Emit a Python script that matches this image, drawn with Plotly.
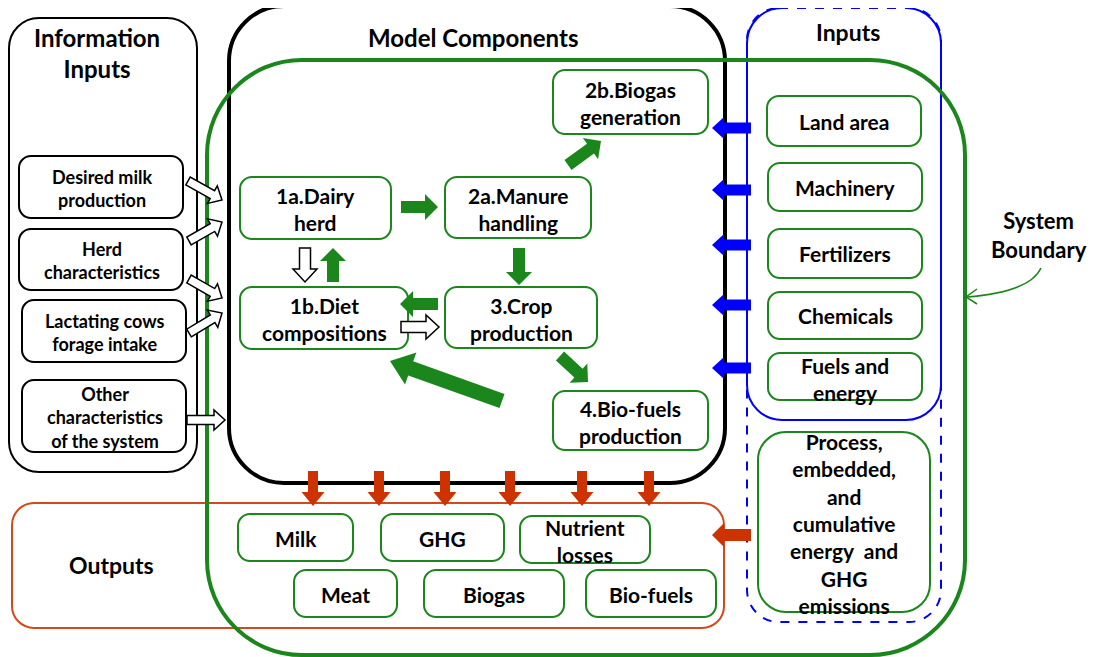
import numpy as np
import plotly.graph_objects as go

# ---- diagram text ----
titles = ["Information<br>Inputs", "Model Components", "Inputs", "System<br>Boundary", "Outputs"]
info_labels = ["Desired milk<br>production", "Herd<br>characteristics",
               "Lactating cows<br>forage intake", "Other<br>characteristics<br>of the system"]
comp_labels = ["1a.Dairy<br>herd", "2a.Manure<br>handling", "2b.Biogas<br>generation",
               "1b.Diet<br>compositions", "3.Crop<br>production", "4.Bio-fuels<br>production"]
input_labels = ["Land area", "Machinery", "Fertilizers", "Chemicals", "Fuels and<br>energy"]
energy_label = "Process,<br>embedded,<br>and<br>cumulative<br>energy  and<br>GHG<br>emissions"
output_labels = ["Milk", "GHG", "Nutrient<br>losses", "Meat", "Biogas", "Bio-fuels"]

# ---- layout (pixel coordinates) ----
info_boxes = [(19, 156, 183, 218), (19, 229, 183, 290), (22, 300, 186, 362), (22, 380, 186, 452)]
comp_boxes = [(240, 177, 391, 239), (445, 177, 591, 238), (553, 70, 708, 134),
              (240, 287, 408, 349), (445, 287, 597, 348), (553, 391, 708, 450)]
input_boxes = [(767, 96, 921, 146), (768, 163, 922, 211), (768, 229, 922, 278),
               (768, 292, 922, 339), (768, 353, 922, 400)]
energy_box = (758, 432, 930, 612)
output_boxes = [(238, 514, 353, 561), (381, 514, 504, 561), (520, 516, 650, 563),
                (294, 570, 397, 617), (424, 570, 564, 617), (586, 570, 716, 617)]

GREEN = "#1b861b"
BLUE = "#0000ff"
ORANGE = "#cc3300"
FONT = "Lato"

shapes = []
annotations = []


def rrect(x0, y0, x1, y1, r):
    k = 0.5523 * r
    return (f"M {x0+r},{y0} L {x1-r},{y0} C {x1-r+k},{y0} {x1},{y0+r-k} {x1},{y0+r} "
            f"L {x1},{y1-r} C {x1},{y1-r+k} {x1-r+k},{y1} {x1-r},{y1} "
            f"L {x0+r},{y1} C {x0+r-k},{y1} {x0},{y1-r+k} {x0},{y1-r} "
            f"L {x0},{y0+r} C {x0},{y0+r-k} {x0+r-k},{y0} {x0+r},{y0} Z")


def box(b, r, color, width, dash="solid", fill="rgba(0,0,0,0)"):
    shapes.append(dict(type="path", path=rrect(*b, r), line=dict(color=color, width=width, dash=dash),
                       fillcolor=fill, xref="x", yref="y"))


def block_arrow(x0, y0, x1, y1, shaft, head, hlen, fill, line="rgba(0,0,0,0)", lw=0):
    p0 = np.array([x0, y0], float)
    p1 = np.array([x1, y1], float)
    u = (p1 - p0) / np.linalg.norm(p1 - p0)
    n = np.array([-u[1], u[0]])
    b = p1 - u * hlen
    pts = [p0 + n * shaft / 2, b + n * shaft / 2, b + n * head / 2, p1,
           b - n * head / 2, b - n * shaft / 2, p0 - n * shaft / 2]
    path = "M " + " L ".join(f"{p[0]:.1f},{p[1]:.1f}" for p in pts) + " Z"
    shapes.append(dict(type="path", path=path, fillcolor=fill, line=dict(color=line, width=lw),
                       xref="x", yref="y"))


def text(x, y, s, size, color="black"):
    annotations.append(dict(x=x, y=y, text=f"<b>{s}</b>", showarrow=False, xref="x", yref="y",
                            font=dict(family=FONT, size=size, color=color),
                            xanchor="center", yanchor="middle"))


# ---- large frames ----
box((9, 18, 197, 472), 30, "black", 2)
box((229, 6, 725, 483), 55, "black", 4)
box((12, 503, 724, 628), 22, "#d24a1c", 2)
box((747, 8, 941, 622), 32, BLUE, 2, dash="dash")
# solid part of the inputs frame (open on top)
r = 35
k = 0.5523 * r
shapes.append(dict(type="path", xref="x", yref="y", line=dict(color=BLUE, width=2),
                   path=(f"M {747+r},8 C {747+r-k},8 747,{8+r-k} 747,{8+r} L 747,{420-r} "
                         f"C 747,{420-r+k} {747+r-k},420 {747+r},420 L {941-r},420 "
                         f"C {941-r+k},420 941,{420-r+k} 941,{420-r} L 941,{8+r} "
                         f"C 941,{8+r-k} {941-r+k},8 {941-r},8")))
box((207, 60, 965, 655), 95, GREEN, 4)

# ---- small boxes ----
for b in info_boxes:
    box(b, 12, "black", 2, fill="white")
for b in comp_boxes + input_boxes + output_boxes:
    box(b, 12, GREEN, 2, fill="white")
box(energy_box, 28, GREEN, 2, fill="white")

# ---- arrows ----
hollow = dict(fill="white", line="black", lw=1.5)
for a in [(188, 181, 222, 200), (189, 241, 222, 222), (189, 279, 222, 298),
          (189, 333, 222, 313), (187, 420, 225, 420)]:
    block_arrow(*a, 9, 20, 11, **hollow)
block_arrow(305, 248, 305, 282, 11, 24, 13, **hollow)
block_arrow(401, 327, 439, 327, 11, 24, 13, **hollow)

for a in [(333, 282, 333, 248), (401, 207, 438, 207), (519, 248, 519, 285),
          (438, 304, 400, 304), (560, 356, 588, 382), (568, 165, 601, 141)]:
    block_arrow(*a, 12, 26, 13, GREEN)
block_arrow(502, 401, 390, 361, 15, 34, 22, GREEN)

for y in [128, 190, 245, 305, 368]:
    block_arrow(751, y, 712, y, 11, 22, 12, BLUE)
for x in [313, 379, 445, 510, 582, 649]:
    block_arrow(x, 471, x, 506, 10, 23, 14, ORANGE)
block_arrow(751, 535, 712, 535, 12, 24, 12, ORANGE)

# curved pointer for the system boundary
shapes.append(dict(type="path", xref="x", yref="y", line=dict(color=GREEN, width=1.5),
                   path="M 1041,268 Q 1030,292 967,297"))
shapes.append(dict(type="path", xref="x", yref="y", line=dict(color=GREEN, width=1.5),
                   path="M 977,289 L 966,297 L 977,304"))

# ---- text ----
text(97, 53, titles[0], 24)
text(473, 37, titles[1], 24)
text(848, 32, titles[2], 23)
text(1039, 235, titles[3], 22)
text(111, 565, titles[4], 23)

for b, s in zip(info_boxes, info_labels):
    text((b[0] + b[2]) / 2 + 1, (b[1] + b[3]) / 2 + 1, s, 18)
for b, s in zip(comp_boxes, comp_labels):
    text((b[0] + b[2]) / 2, (b[1] + b[3]) / 2 + 1, s, 21)
for b, s in zip(input_boxes, input_labels):
    text((b[0] + b[2]) / 2, (b[1] + b[3]) / 2 + (2 if "<br>" in s else 0), s, 21)
text(844, 523, energy_label, 21)
for b, s in zip(output_boxes, output_labels):
    text((b[0] + b[2]) / 2, (b[1] + b[3]) / 2 + 1, s, 21)

# the page adds an 8px body margin, so the plot is drawn 8px in and the ranges start at 8
fig = go.Figure()
fig.update_layout(
    width=1088, height=649,
    margin=dict(l=0, r=0, t=0, b=0),
    paper_bgcolor="white", plot_bgcolor="white",
    xaxis=dict(range=[8, 1096], visible=False, fixedrange=True),
    yaxis=dict(range=[657, 8], visible=False, fixedrange=True),
    shapes=shapes, annotations=annotations, showlegend=False,
)
fig.write_html("out.html")
